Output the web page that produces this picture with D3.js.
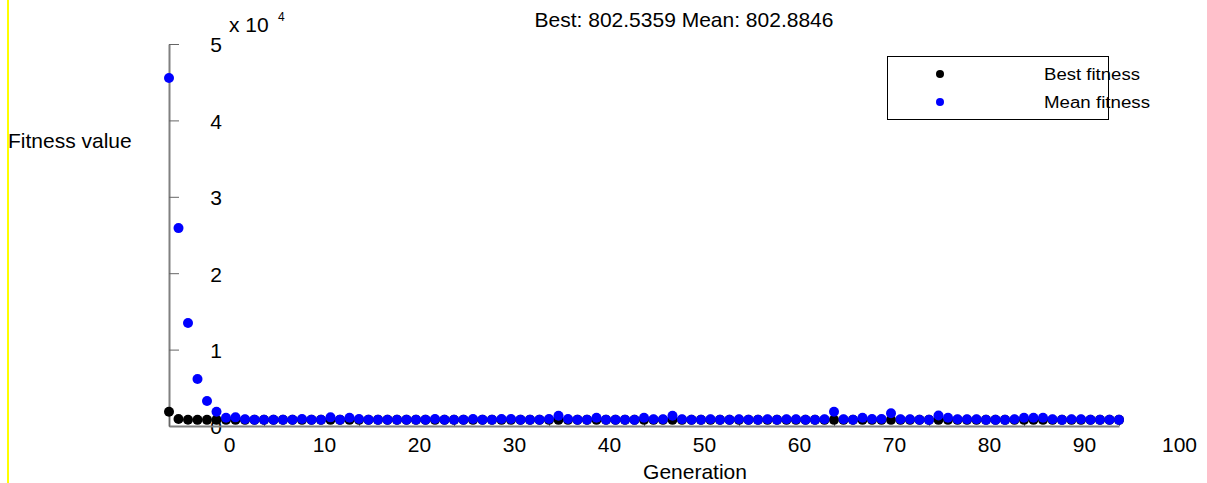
<!DOCTYPE html>
<html>
<head>
<meta charset="utf-8">
<script src="https://cdn.jsdelivr.net/npm/d3@7/dist/d3.min.js"></script>
<style>
  html, body { margin: 0; padding: 0; background: #fff; }
  svg { display: block; }
  text { font-family: "Liberation Sans", Arial, sans-serif; fill: #000; }
</style>
</head>
<body>
<script>
// Best and mean fitness per generation of the genetic algorithm run (generations 0..100)
const bestFitness = [
  1870, 920, 818, 806.2, 805.1, 804.6, 804.1, 803.9, 803.7, 803.5,
  803.4, 803.3, 803.2, 803.2, 803.1, 803.1, 803.0, 803.0, 802.95, 802.9,
  802.9, 802.85, 802.85, 802.8, 802.8, 802.8, 802.75, 802.75, 802.7, 802.7,
  802.7, 802.68, 802.68, 802.66, 802.66, 802.65, 802.65, 802.64, 802.64, 802.63,
  802.63, 802.62, 802.62, 802.61, 802.61, 802.6, 802.6, 802.6, 802.59, 802.59,
  802.59, 802.58, 802.58, 802.58, 802.57, 802.57, 802.57, 802.56, 802.56, 802.56,
  802.56, 802.55, 802.55, 802.55, 802.55, 802.55, 802.54, 802.54, 802.54, 802.54,
  802.54, 802.54, 802.54, 802.54, 802.54, 802.54, 802.54, 802.54, 802.54, 802.54,
  802.54, 802.54, 802.54, 802.54, 802.54, 802.54, 802.54, 802.54, 802.54, 802.54,
  802.54, 802.54, 802.54, 802.54, 802.54, 802.54, 802.54, 802.54, 802.54, 802.54,
  802.5359
];
const meanFitness = [
  45550, 25900, 13480, 6150, 3270, 1876, 1090, 1130, 880, 830,
  810, 810, 810, 810, 920, 830, 810, 1130, 830, 1090,
  920, 830, 830, 810, 810, 830, 830, 830, 920, 810,
  810, 830, 920, 830, 830, 920, 920, 830, 830, 830,
  920, 1335, 920, 830, 830, 1090, 830, 830, 830, 805,
  1090, 880, 880, 1335, 880, 810, 810, 880, 810, 810,
  880, 830, 810, 880, 810, 880, 880, 810, 810, 880,
  1876, 880, 810, 1090, 920, 920, 1658, 880, 880, 810,
  805, 1380, 1090, 880, 880, 880, 805, 805, 805, 880,
  1090, 1090, 1090, 880, 805, 880, 880, 810, 810, 810,
  802.8846
];
const xTicks = [0, 10, 20, 30, 40, 50, 60, 70, 80, 90, 100];
const yTicks = [0, 10000, 20000, 30000, 40000, 50000];
const seriesNames = ["Best fitness", "Mean fitness"];
const seriesColors = ["#000000", "#0000ff"];
const titleText = "Best: 802.5359 Mean: 802.8846";

const W = 1207, H = 483;
const svg = d3.select("body").append("svg").attr("width", W).attr("height", H);

// left-edge marker line
svg.append("line")
  .attr("x1", 8).attr("x2", 8).attr("y1", 0).attr("y2", H)
  .attr("stroke", "#ffff00").attr("stroke-width", 2);

const x = d3.scaleLinear().domain([0, 100]).range([169, 1119]);
const y = d3.scaleLinear().domain([0, 50000]).range([426, 44]);

const labelShift = 60;   // tick labels sit to the right of their ticks
const fs = "21px";

// y axis
const gy = svg.append("g").attr("transform", `translate(${x(0)},0)`)
  .call(d3.axisRight(y).tickValues(yTicks).tickSize(10).tickSizeOuter(0)
    .tickFormat(d => d / 10000));
gy.select(".domain").attr("stroke", "#808080").attr("stroke-width", 2);
gy.selectAll(".tick line").attr("stroke", "#666");
gy.selectAll(".tick text")
  .attr("x", labelShift - 7).attr("text-anchor", "end").attr("dy", "0.38em")
  .style("font-size", fs);

// x axis
const gx = svg.append("g").attr("transform", `translate(0,${y(0)})`)
  .call(d3.axisBottom(x).tickValues(xTicks).tickSize(-10).tickSizeOuter(0));
gx.select(".domain").attr("stroke", "#808080").attr("stroke-width", 2);
gx.selectAll(".tick line").attr("stroke", "#666");
gx.selectAll(".tick text")
  .attr("x", labelShift).attr("y", 11).attr("dy", "0.71em")
  .style("font-size", fs);
svg.selectAll(".tick text").attr("font-family", null).attr("font-size", null);

// exponent marker
svg.append("text").attr("x", x(0) + labelShift).attr("y", 32).style("font-size", fs).text("x 10");
svg.append("text").attr("x", x(0) + labelShift + 49).attr("y", 21).style("font-size", "12px").text("4");

// titles
svg.append("text").attr("x", 684).attr("y", 27).attr("text-anchor", "middle")
  .style("font-size", fs).text(titleText);
svg.append("text").attr("x", 695).attr("y", 479).attr("text-anchor", "middle")
  .style("font-size", fs).text("Generation");
svg.append("text").attr("x", 8).attr("y", 148)
  .style("font-size", fs).text("Fitness value");

// points: best first, mean on top
const r = 5;
svg.append("g").selectAll("circle").data(bestFitness).join("circle")
  .attr("cx", (d, i) => x(i)).attr("cy", d => y(d)).attr("r", r)
  .attr("fill", seriesColors[0]);
svg.append("g").selectAll("circle").data(meanFitness).join("circle")
  .attr("cx", (d, i) => x(i)).attr("cy", d => y(d)).attr("r", r)
  .attr("fill", seriesColors[1]);

// legend
const lg = svg.append("g");
lg.append("rect").attr("x", 887.5).attr("y", 56.5).attr("width", 221).attr("height", 63)
  .attr("fill", "#fff").attr("stroke", "#000").attr("stroke-width", 1);
const rowsY = [74, 102];
seriesNames.forEach((name, i) => {
  lg.append("circle").attr("cx", 940).attr("cy", rowsY[i]).attr("r", 4).attr("fill", seriesColors[i]);
  lg.append("text").attr("x", 1044).attr("y", rowsY[i] + 6)
    .style("font-size", "16px")
    .attr("textLength", i === 0 ? 96 : 106).attr("lengthAdjust", "spacingAndGlyphs")
    .text(name);
});
</script>
</body>
</html>
